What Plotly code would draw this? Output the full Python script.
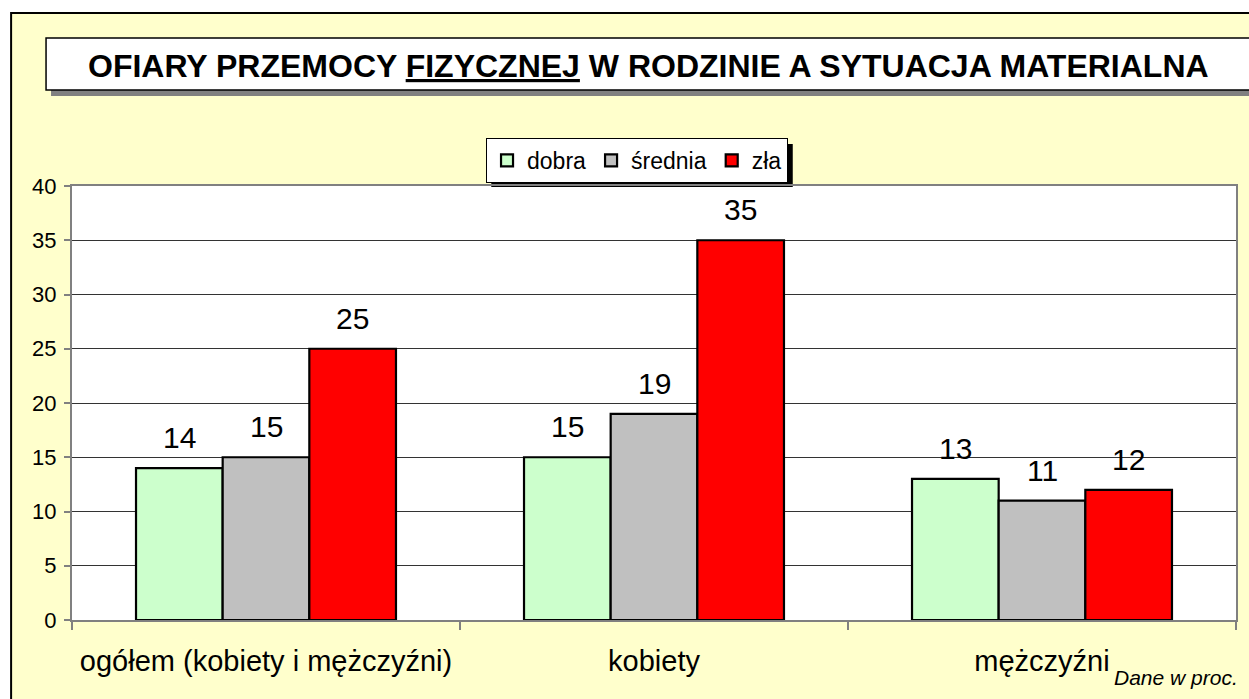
import plotly.graph_objects as go

categories = ["ogółem (kobiety i mężczyźni)", "kobiety", "mężczyźni"]
series_names = ["dobra", "średnia", "zła"]
dobra = [14, 15, 13]
srednia = [15, 19, 11]
zla = [25, 35, 12]
series_values = [dobra, srednia, zla]
colors = ["#CCFFCC", "#C0C0C0", "#FF0000"]
y_ticks = [0, 5, 10, 15, 20, 25, 30, 35, 40]

# body margin is removed by a post script, so screen px == figure px
W, H = 1249, 699
L, R, T, B = 72, 1238, 186, 620
BARGAP = 0.33
FONT = "Liberation Sans, Arial, sans-serif"

def px_x(x):
    return (x - L) / (R - L)

def px_y(y):
    return (B - y) / (B - T)

fig = go.Figure()
for name, vals, col in zip(series_names, series_values, colors):
    fig.add_trace(go.Bar(
        x=categories, y=vals, name=name,
        marker=dict(color=col, line=dict(color="black", width=2.2)),
    ))

# value labels
bar_w_px = (R - L) / len(categories) * (1 - BARGAP) / len(series_names)
annotations = []
for i, vals in enumerate(series_values):
    for c, v in zip(categories, vals):
        annotations.append(dict(
            x=c, y=v, xref="x", yref="y", text=str(v), showarrow=False,
            xshift=(i - 1) * bar_w_px, yshift=12, yanchor="bottom",
            font=dict(family=FONT, size=30, color="black"),
        ))

annotations.append(dict(
    x=px_x(1242), y=px_y(677), xref="paper", yref="paper",
    text="<i>Dane w proc.</i>", showarrow=False, xanchor="right", yanchor="middle",
    font=dict(family=FONT, size=21, color="black"),
))
annotations.append(dict(
    x=px_x(649), y=px_y(66), xref="paper", yref="paper",
    text="<b>OFIARY PRZEMOCY <u>FIZYCZNEJ</u> W RODZINIE A SYTUACJA MATERIALNA</b>",
    showarrow=False, xanchor="center", yanchor="middle",
    font=dict(family=FONT, size=32, color="black"),
))

shapes = [
    # outer yellow frame
    dict(type="rect", xref="paper", yref="paper", layer="below",
         x0=px_x(11), x1=px_x(1275), y0=px_y(13), y1=px_y(725),
         fillcolor="#FFFFCC", line=dict(color="black", width=2)),
    # plot area white
    dict(type="rect", xref="paper", yref="paper", layer="below",
         x0=0, x1=1, y0=0, y1=1, fillcolor="white", line=dict(width=0)),
    # title shadow
    dict(type="rect", xref="paper", yref="paper", layer="below",
         x0=px_x(51), x1=px_x(1275), y0=px_y(43), y1=px_y(96),
         fillcolor="#808080", line=dict(width=0)),
    # title box
    dict(type="rect", xref="paper", yref="paper", layer="below",
         x0=px_x(46), x1=px_x(1275), y0=px_y(38), y1=px_y(90),
         fillcolor="white", line=dict(color="black", width=1.5)),
    # legend shadow
    dict(type="rect", xref="paper", yref="paper", layer="below",
         x0=px_x(492), x1=px_x(794), y0=px_y(144), y1=px_y(187),
         fillcolor="black", line=dict(width=0)),
]

fig.update_layout(
    width=W, height=H,
    margin=dict(l=L, r=W - R, t=T, b=H - B),
    paper_bgcolor="white", plot_bgcolor="rgba(0,0,0,0)",
    barmode="group", bargap=BARGAP, bargroupgap=0,
    font=dict(family=FONT, color="black"),
    showlegend=True,
    legend=dict(
        orientation="h", x=px_x(638), y=px_y(138), xanchor="center", yanchor="top",
        bgcolor="white", bordercolor="black", borderwidth=1,
        font=dict(family=FONT, size=23, color="black"),
        itemwidth=30, tracegroupgap=0,
    ),
    annotations=annotations, shapes=shapes,
    xaxis=dict(
        type="category", tickson="boundaries", ticks="outside", ticklen=8,
        tickcolor="#808080", tickwidth=1.5,
        showline=True, linecolor="#808080", linewidth=2, mirror=True,
        tickfont=dict(family=FONT, size=29, color="black"),
        ticklabelstandoff=14, showgrid=False,
    ),
    yaxis=dict(
        range=[0, 40], tickvals=y_ticks, ticks="outside", ticklen=6,
        tickcolor="#808080", tickwidth=1.5,
        showline=True, linecolor="#808080", linewidth=2, mirror=True,
        showgrid=True, gridcolor="#333333", gridwidth=1,
        tickfont=dict(family=FONT, size=22, color="black"),
        ticklabelstandoff=3, zeroline=False,
    ),
)

fig.write_html(
    "out.html",
    config={"displayModeBar": False},
    post_script="document.body.style.margin='0';document.body.style.overflow='hidden';",
)
